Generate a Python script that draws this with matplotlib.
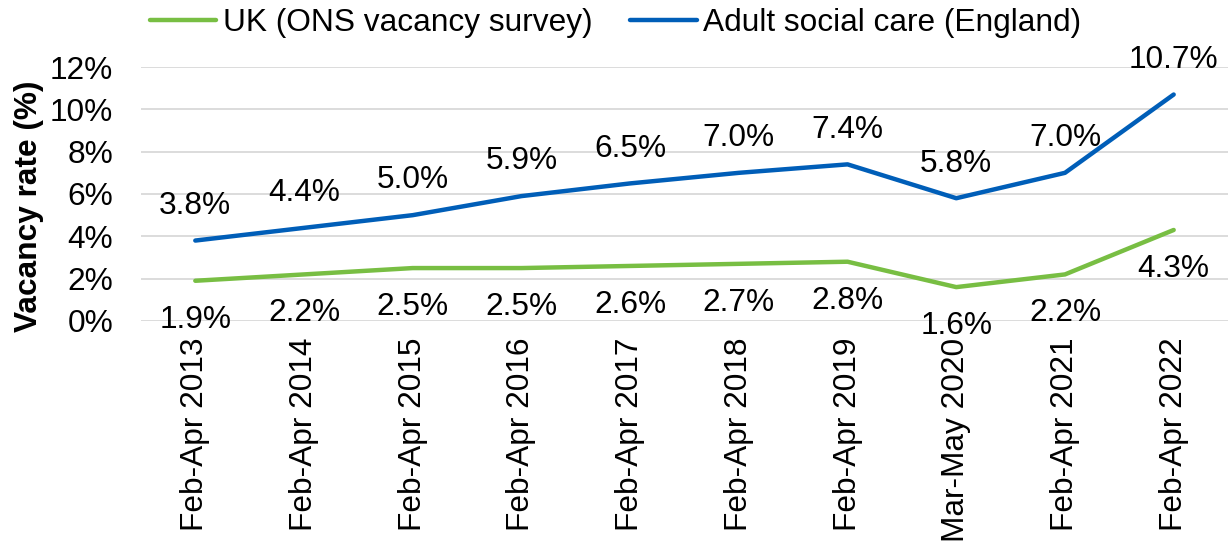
import matplotlib
matplotlib.use("Agg")
import matplotlib.pyplot as plt

categories = ["Feb-Apr 2013", "Feb-Apr 2014", "Feb-Apr 2015", "Feb-Apr 2016", "Feb-Apr 2017",
              "Feb-Apr 2018", "Feb-Apr 2019", "Mar-May 2020", "Feb-Apr 2021", "Feb-Apr 2022"]
uk_values = [1.9, 2.2, 2.5, 2.5, 2.6, 2.7, 2.8, 1.6, 2.2, 4.3]
asc_values = [3.8, 4.4, 5.0, 5.9, 6.5, 7.0, 7.4, 5.8, 7.0, 10.7]
y_ticks = [0, 2, 4, 6, 8, 10, 12]
uk_name = "UK (ONS vacancy survey)"
asc_name = "Adult social care (England)"

plt.rcParams['font.family'] = ['Liberation Sans', 'DejaVu Sans']
FS = 22.8

fig = plt.figure(figsize=(12.31, 5.47), dpi=100)
ax = fig.add_axes([0.1145, 0.4132, 0.8831, 0.4643])

green = '#78BE43'
blue = '#005EB8'
x = list(range(len(categories)))
l1, = ax.plot(x, uk_values, color=green, lw=3.2, solid_capstyle='round', label=uk_name, zorder=3)
l2, = ax.plot(x, asc_values, color=blue, lw=3.2, solid_capstyle='round', label=asc_name, zorder=3)

for xi, v in zip(x, uk_values):
    ax.annotate(f"{v:.1f}%", (xi, v), xytext=(0, -28), textcoords='offset points',
                ha='center', va='center', fontsize=FS, color='black', zorder=4)
for xi, v in zip(x, asc_values):
    ax.annotate(f"{v:.1f}%", (xi, v), xytext=(0, 25), textcoords='offset points',
                ha='center', va='center', fontsize=FS, color='black', zorder=4)

ax.set_xlim(-0.5, len(categories) - 0.5)
ax.set_ylim(0, 12)
ax.set_yticks(y_ticks)
ax.set_yticklabels([f"{t}%" for t in y_ticks], fontsize=FS)
ax.set_xticks(x)
ax.set_xticklabels(categories, rotation=90, fontsize=FS)
ax.tick_params(axis='both', length=0)
ax.tick_params(axis='y', pad=20)
ax.tick_params(axis='x', pad=12)
ax.grid(axis='y', color='#D9D9D9', lw=1.3)
ax.set_axisbelow(True)
for s in ax.spines.values():
    s.set_visible(False)

ax.set_ylabel("Vacancy rate (%)", fontsize=FS, fontweight='bold', labelpad=10)
ax.yaxis.set_label_coords(-0.089, 0.45)

fig.legend(handles=[l1, l2], loc='center', bbox_to_anchor=(0.5, 0.958), ncol=2, frameon=False,
           fontsize=FS, handlelength=2.1, handletextpad=0.2, columnspacing=1.2)

fig.savefig("out.png", dpi=100)
